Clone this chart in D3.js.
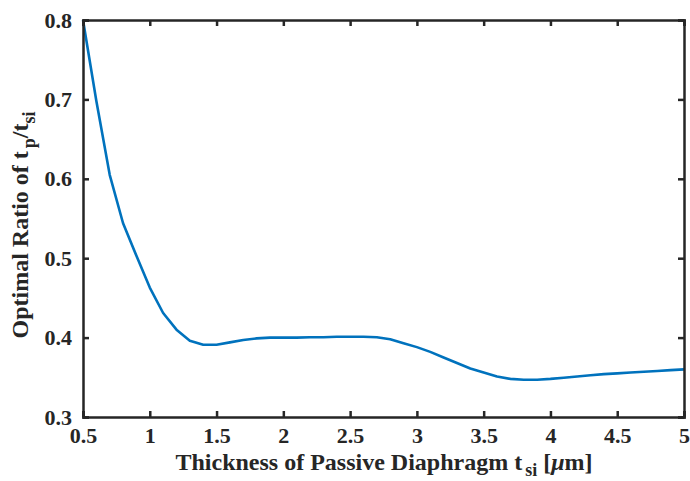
<!DOCTYPE html>
<html><head><meta charset="utf-8">
<script src="https://cdn.jsdelivr.net/npm/d3@7"></script>
<style>body{margin:0;background:#fff}svg{display:block}</style>
</head><body>
<svg id="c" width="690" height="481"></svg>
<script>
const xValues = [0.5,0.6,0.7,0.8,0.9,1.0,1.1,1.2,1.3,1.4,1.5,1.6,1.7,1.8,1.9,2.0,2.1,2.2,2.3,2.4,2.5,2.6,2.7,2.8,2.9,3.0,3.1,3.2,3.3,3.4,3.5,3.6,3.7,3.8,3.9,4.0,4.1,4.2,4.3,4.4,4.5,4.6,4.7,4.8,4.9,5.0];
const ratioValues = [0.800,0.698,0.605,0.544,0.503,0.463,0.431,0.410,0.396,0.391,0.391,0.394,0.397,0.399,0.400,0.400,0.400,0.4005,0.4005,0.401,0.401,0.401,0.4005,0.398,0.393,0.388,0.382,0.375,0.368,0.361,0.356,0.351,0.348,0.347,0.347,0.348,0.3495,0.351,0.3525,0.354,0.355,0.356,0.357,0.358,0.359,0.360];
const xTicks = [0.5,1,1.5,2,2.5,3,3.5,4,4.5,5];
const yTicks = [0.3,0.4,0.5,0.6,0.7,0.8];

const svg = d3.select("#c");
const L=83,R=684,T=20,B=417;
const x = d3.scaleLinear().domain([0.5,5]).range([L,R]);
const y = d3.scaleLinear().domain([0.3,0.8]).range([B,T]);
const font = "'Liberation Serif', 'Times New Roman', serif";
const axCol = "#262626";

// line
svg.append("path").datum(xValues.map((v,i)=>[v,ratioValues[i]]))
  .attr("fill","none").attr("stroke","#0072BD").attr("stroke-width",2.6)
  .attr("stroke-linejoin","round")
  .attr("d", d3.line().x(d=>x(d[0])).y(d=>y(d[1])));

// axes
const gx = svg.append("g").attr("transform",`translate(0,${B})`)
  .call(d3.axisBottom(x).tickValues(xTicks).tickSize(-6).tickPadding(10).tickFormat(d3.format("")));
const gxt = svg.append("g").attr("transform",`translate(0,${T})`)
  .call(d3.axisTop(x).tickValues(xTicks).tickSize(-6).tickFormat(""));
const gy = svg.append("g").attr("transform",`translate(${L},0)`)
  .call(d3.axisLeft(y).tickValues(yTicks).tickSize(-6).tickPadding(11).tickFormat(d3.format(".1f")));
const gyr = svg.append("g").attr("transform",`translate(${R},0)`)
  .call(d3.axisRight(y).tickValues(yTicks).tickSize(-6).tickFormat(""));
[gx,gxt,gy,gyr].forEach(g=>{
  g.select(".domain").attr("stroke",axCol).attr("stroke-width",2.5);
  g.selectAll(".tick line").attr("stroke",axCol).attr("stroke-width",2.5);
  g.selectAll(".tick text").attr("fill","#262626").style("font-family",font)
   .style("font-weight","bold").style("font-size","22px");
});

// x label
const xl = svg.append("text").attr("x",384).attr("y",470).attr("text-anchor","middle")
  .style("font-family",font).style("font-weight","bold").style("font-size","24px").attr("fill","#262626");
xl.append("tspan").text("Thickness of Passive Diaphragm t");
xl.append("tspan").attr("dx",3).attr("dy",6).style("font-size","18px").text("si");
xl.append("tspan").attr("dy",-6).text(" [");
xl.append("tspan").style("font-style","italic").text("\u03bc");
xl.append("tspan").text("m]");

// y label
const yl = svg.append("text").attr("transform","translate(28,225) rotate(-90)").attr("text-anchor","middle")
  .style("font-family",font).style("font-weight","bold").style("font-size","24px").attr("fill","#262626");
yl.append("tspan").text("Optimal Ratio of t");
yl.append("tspan").attr("dx",3).attr("dy",7).style("font-size","18px").text("p");
yl.append("tspan").attr("dy",-7).text("/t");
yl.append("tspan").attr("dy",7).style("font-size","18px").text("si");
</script>
</body></html>
